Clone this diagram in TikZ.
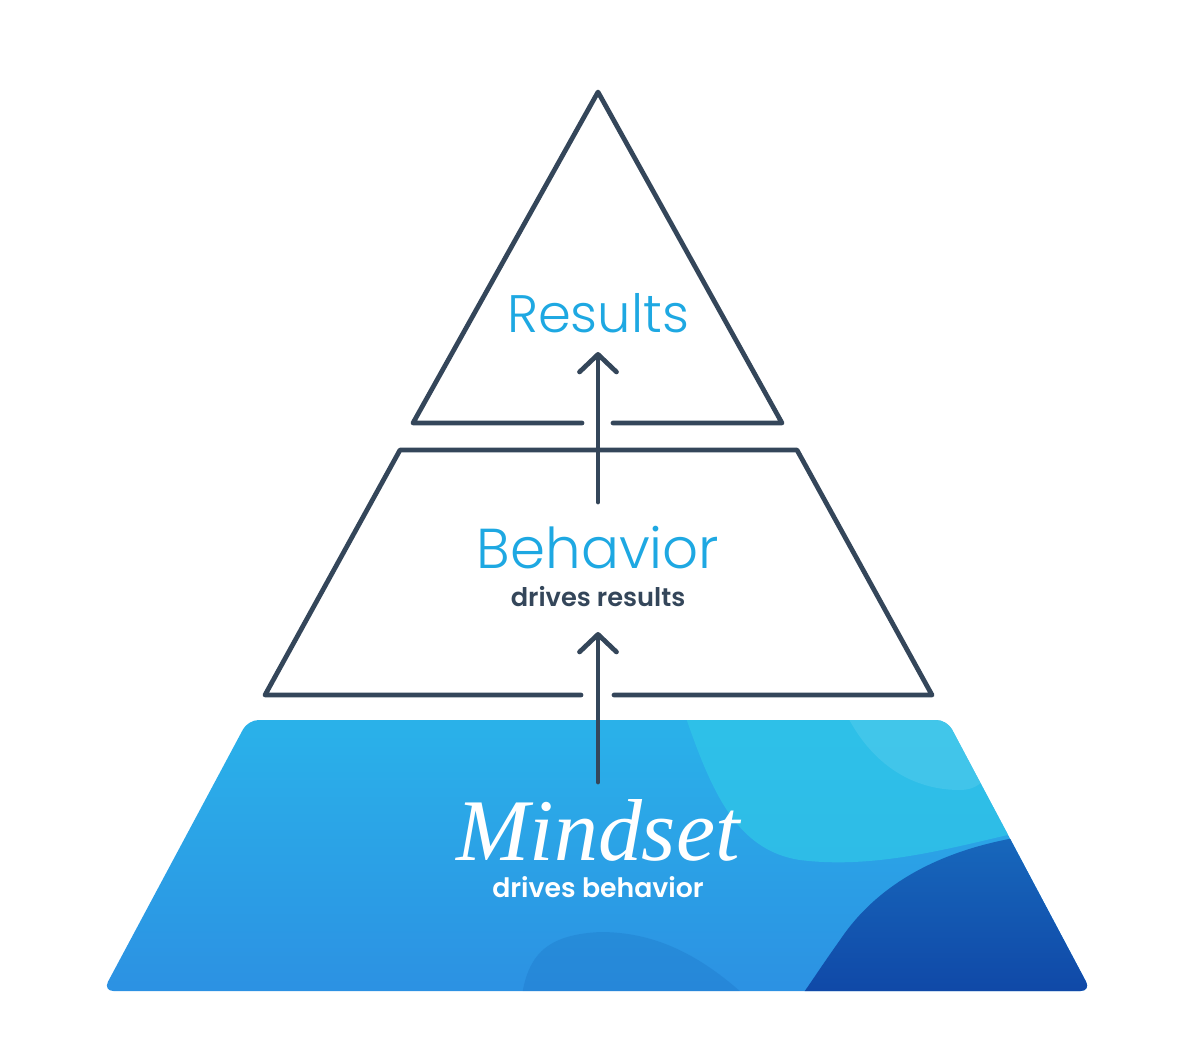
\documentclass[tikz,border=0pt]{standalone}
\usepackage{fontspec}
\setmainfont{Liberation Serif}
\newfontfamily\headfont{Poppins Light}
\newfontfamily\subfont{Poppins SemiBold}
\usetikzlibrary{arrows.meta,calc,positioning}

\definecolor{slate}{HTML}{34465A}
\definecolor{skyblue}{HTML}{1EA8E2}
\definecolor{baseblue}{HTML}{2C8FE2}
\definecolor{topblue}{HTML}{2AB4EA}
\definecolor{lightcyan}{HTML}{30C6E8}
\definecolor{deepblue}{HTML}{1462B6}
\definecolor{navyblue}{HTML}{0F45A5}

\begin{document}
\begin{tikzpicture}[x=0.01cm,y=-0.01cm,
  outline/.style={draw=slate,line width=1.35pt,line join=round,line cap=round},
  upflow/.style={slate,line width=1.35pt,line cap=round,
    -{Straight Barb[length=5pt,width=10.5pt,line cap=round,line join=round]}},
  headtext/.style={text=skyblue,font=\headfont\fontsize{15}{17}\selectfont,inner sep=0pt},
  subtext/.style={text=slate,font=\subfont\fontsize{7.3}{8.5}\selectfont,inner sep=0pt}]
  \useasboundingbox (0,0) rectangle (1200,1039);

  % Bottom layer: blue trapezoid with a soft wavy fill
  \begin{scope}
    \clip[rounded corners=3pt] (248,720) -- (947,720) -- (1091,991) -- (103,991) -- cycle;
    \shade[top color=topblue,bottom color=baseblue] (90,700) rectangle (1110,1010);
    % light patch top right
    \fill[lightcyan,opacity=0.75] (680,700) .. controls (710,790) and (735,850) .. (800,860)
      .. controls (880,870) and (960,845) .. (1030,830) -- (1030,700) -- cycle;
    \fill[lightcyan!55!white,opacity=0.2] (840,700) .. controls (860,750) and (900,790) .. (960,790)
      .. controls (990,790) and (1000,760) .. (1000,700) -- cycle;
    % dark wave bottom right
    \shade[top color=deepblue!85!baseblue,bottom color=navyblue]
      (1110,830) .. controls (960,830) and (880,880) .. (840,940)
      .. controls (815,975) and (800,1000) .. (790,1010) -- (1110,1010) -- cycle;
    % soft dark patch bottom middle
    \fill[deepblue,opacity=0.22] (520,1010) .. controls (525,960) and (540,935) .. (600,932)
      .. controls (650,932) and (700,950) .. (760,1010) -- cycle;
  \end{scope}

  % Top triangle, base broken for the arrow
  \draw[outline] (613,423) -- (782,423) -- (598,92) -- (413,423) -- (582,423);

  % Middle trapezoid, base broken for the arrow
  \draw[outline] (614,695) -- (932,695) -- (797,450) -- (400,450) -- (265,695) -- (581,695);

  % Labels
  \node[headtext] (results) at (598,313) {Results};
  \node[headtext,font=\headfont\fontsize{16}{18}\selectfont] (behavior) at (598,548) {Behavior};
  \node[subtext] (behdesc) at (598,597) {drives results};
  \node[text=white,font=\itshape\fontsize{25}{28}\selectfont,inner sep=0pt] (mindset) at (598,830) {Mindset};
  \node[subtext,text=white,font=\subfont\fontsize{7.6}{9}\selectfont] (minddesc) at (598,887) {drives behavior};

  % Arrow ends
  \coordinate (tailA) at (598,782);
  \coordinate (tipA) at (598,632);
  \coordinate (tailB) at (598,502);
  \coordinate (tipB) at (598,352);
  \draw[upflow] (tailA) -- (tipA);
  \draw[upflow] (tailB) -- (tipB);
\end{tikzpicture}
\end{document}
